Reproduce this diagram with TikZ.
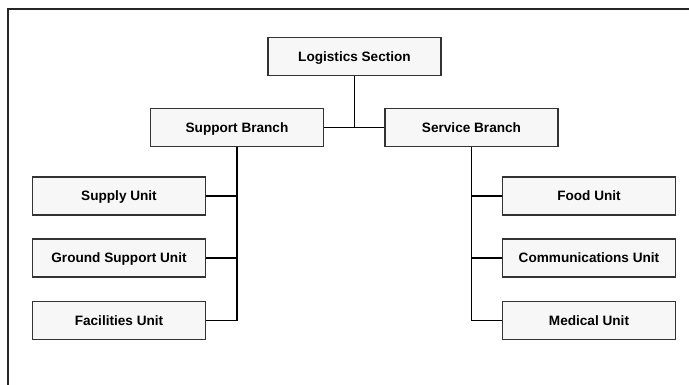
\documentclass[tikz,border=0pt]{standalone}
\usepackage{fontspec}
\setmainfont{Liberation Sans}
\definecolor{boxfill}{HTML}{F7F7F7}
\definecolor{boxline}{HTML}{333333}
\begin{document}
\begin{tikzpicture}[x=1pt,y=-1pt,
  unitbox/.style={draw=boxline, line width=1.3pt, fill=boxfill,
    minimum width=173pt, minimum height=38pt, inner sep=0pt,
    text height=9.7pt, text depth=0pt,
    font=\fontsize{13.6}{16}\selectfont\bfseries},
  link/.style={draw=black, line width=1.4pt}]
\useasboundingbox (0,0) rectangle (689,385);
% open frame along the top and left edges
\draw[line width=2pt, draw=black!85] (8,385) -- (8,9) -- (689,9);

\node[unitbox] (log) at (354.5,56.5) {Logistics Section};
\node[unitbox] (sup) at (237,127.5) {Support Branch};
\node[unitbox] (srv) at (471.5,127.5) {Service Branch};

\node[unitbox] (supply) at (119,196) {Supply Unit};
\node[unitbox] (ground) at (119,258) {Ground Support Unit};
\node[unitbox] (fac) at (119,320.5) {Facilities Unit};

\node[unitbox] (food) at (589,196) {Food Unit};
\node[unitbox] (comm) at (589,258) {Communications Unit};
\node[unitbox] (med) at (589,320.5) {Medical Unit};

% section to branches
\draw[link] (sup.east) -- (srv.west);
\draw[link] (log.south) -- (log.south |- sup.east);

% support branch units
\draw[link] (sup.south) -- (sup.south |- fac.east) -- (fac.east);
\draw[link] (sup.south |- supply.east) -- (supply.east);
\draw[link] (sup.south |- ground.east) -- (ground.east);

% service branch units
\draw[link] (srv.south) -- (srv.south |- med.west) -- (med.west);
\draw[link] (srv.south |- food.west) -- (food.west);
\draw[link] (srv.south |- comm.west) -- (comm.west);
\end{tikzpicture}
\end{document}
